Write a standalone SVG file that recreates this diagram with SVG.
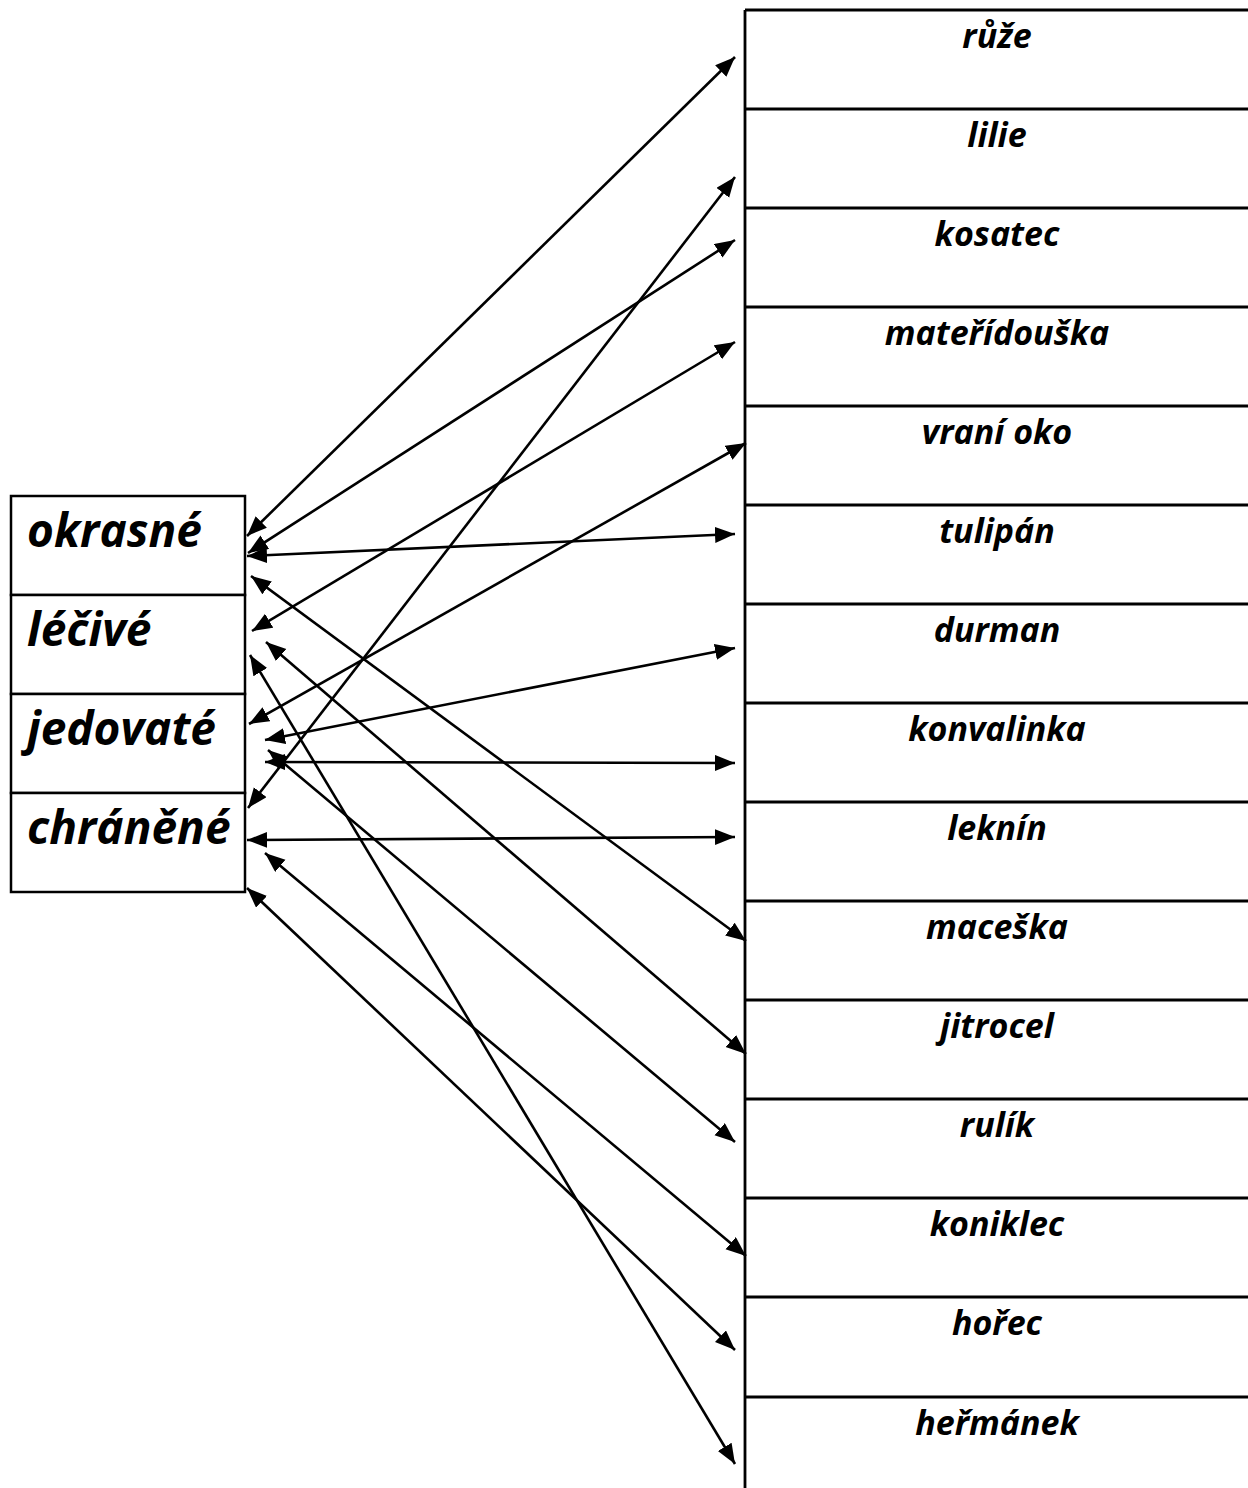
<svg xmlns="http://www.w3.org/2000/svg" width="1248" height="1488" viewBox="0 0 1248 1488">
<style>
.box{fill:#fff;stroke:#000;stroke-width:2.5}
.ln{stroke:#000;stroke-width:2.8;fill:none}
.lab{font-family:"Open Sans","Liberation Sans",sans-serif;font-weight:bold;font-style:italic;fill:#000}
.big{font-size:46px}
.sm{font-size:34px;text-anchor:middle}
.con line{stroke:#000;stroke-width:2.6;marker-start:url(#ah);marker-end:url(#ah)}
</style>
<defs>
<marker id="ah" markerUnits="userSpaceOnUse" markerWidth="22" markerHeight="18" refX="20" refY="8" orient="auto-start-reverse" viewBox="0 0 22 18">
<path d="M0,0 L20,8 L0,16 z" fill="#000"/>
</marker>
</defs>
<rect width="1248" height="1488" fill="#fff"/>
<g id="left-table">
<g id="okrasne"><rect class="box" x="11" y="496" width="234" height="99"/><text class="lab big" x="27" y="547">okrasné</text></g>
<g id="lecive"><rect class="box" x="11" y="595" width="234" height="99"/><text class="lab big" x="27" y="646">léčivé</text></g>
<g id="jedovate"><rect class="box" x="11" y="694" width="234" height="99"/><text class="lab big" x="27" y="745">jedovaté</text></g>
<g id="chranene"><rect class="box" x="11" y="793" width="234" height="99"/><text class="lab big" x="27" y="844">chráněné</text></g>
</g>
<g id="right-table">
<line class="ln" x1="745" y1="10" x2="745" y2="1488"/>
<g id="ruze"><line class="ln" x1="745" y1="10" x2="1248" y2="10"/><text class="lab sm" x="997" y="48">růže</text></g>
<g id="lilie"><line class="ln" x1="745" y1="109" x2="1248" y2="109"/><text class="lab sm" x="997" y="147">lilie</text></g>
<g id="kosatec"><line class="ln" x1="745" y1="208" x2="1248" y2="208"/><text class="lab sm" x="997" y="246">kosatec</text></g>
<g id="materidouska"><line class="ln" x1="745" y1="307" x2="1248" y2="307"/><text class="lab sm" x="997" y="345">mateřídouška</text></g>
<g id="vrani-oko"><line class="ln" x1="745" y1="406" x2="1248" y2="406"/><text class="lab sm" x="997" y="444">vraní oko</text></g>
<g id="tulipan"><line class="ln" x1="745" y1="505" x2="1248" y2="505"/><text class="lab sm" x="997" y="543">tulipán</text></g>
<g id="durman"><line class="ln" x1="745" y1="604" x2="1248" y2="604"/><text class="lab sm" x="997" y="642">durman</text></g>
<g id="konvalinka"><line class="ln" x1="745" y1="703" x2="1248" y2="703"/><text class="lab sm" x="997" y="741">konvalinka</text></g>
<g id="leknin"><line class="ln" x1="745" y1="802" x2="1248" y2="802"/><text class="lab sm" x="997" y="840">leknín</text></g>
<g id="maceska"><line class="ln" x1="745" y1="901" x2="1248" y2="901"/><text class="lab sm" x="997" y="939">maceška</text></g>
<g id="jitrocel"><line class="ln" x1="745" y1="1000" x2="1248" y2="1000"/><text class="lab sm" x="997" y="1038">jitrocel</text></g>
<g id="rulik"><line class="ln" x1="745" y1="1099" x2="1248" y2="1099"/><text class="lab sm" x="997" y="1137">rulík</text></g>
<g id="koniklec"><line class="ln" x1="745" y1="1198" x2="1248" y2="1198"/><text class="lab sm" x="997" y="1236">koniklec</text></g>
<g id="horec"><line class="ln" x1="745" y1="1297" x2="1248" y2="1297"/><text class="lab sm" x="997" y="1335">hořec</text></g>
<g id="hermanek"><line class="ln" x1="745" y1="1397" x2="1248" y2="1397"/><text class="lab sm" x="997" y="1435">heřmánek</text></g>
</g>
<g id="connectors" class="con">
<line x1="247" y1="536" x2="735" y2="57"/>
<line x1="248" y1="808" x2="735" y2="177"/>
<line x1="248" y1="553" x2="735" y2="240"/>
<line x1="252" y1="631" x2="735" y2="342"/>
<line x1="249" y1="724" x2="746" y2="443"/>
<line x1="247" y1="556" x2="735" y2="534"/>
<line x1="265" y1="740" x2="735" y2="648"/>
<line x1="265" y1="762" x2="735" y2="763"/>
<line x1="247" y1="840" x2="735" y2="837"/>
<line x1="251" y1="576" x2="746" y2="941"/>
<line x1="266" y1="642" x2="746" y2="1054"/>
<line x1="268" y1="750" x2="735" y2="1142"/>
<line x1="265" y1="853" x2="746" y2="1256"/>
<line x1="247" y1="888" x2="735" y2="1350"/>
<line x1="250" y1="655" x2="735" y2="1464"/>
</g>
</svg>
